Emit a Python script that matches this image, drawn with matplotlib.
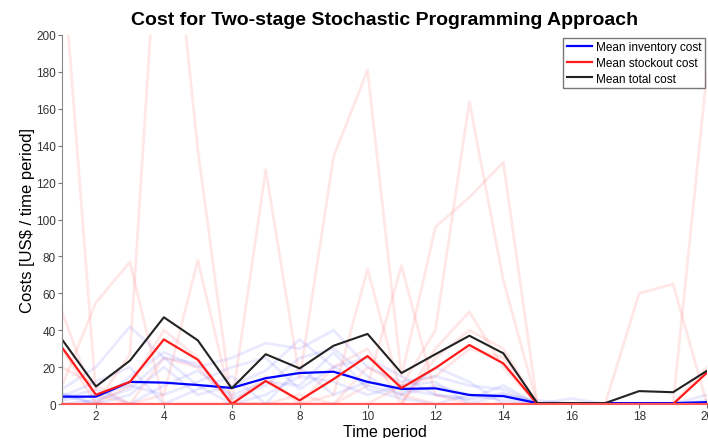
import numpy as np
import matplotlib
matplotlib.use("Agg")
import matplotlib.pyplot as plt

plt.rcParams['font.family'] = ['Liberation Sans', 'DejaVu Sans']

periods = list(range(1, 21))

# mean curves
mean_inventory = [4, 4, 12, 11.6, 10.3, 8.7, 14, 16.8, 17.5, 12, 8.2, 8.5, 4.9, 4.3, 0.5, 0.5, 0.5, 0.5, 0.5, 1]
mean_stockout = [30.7, 5, 12, 35, 24, 0, 12.5, 2, 13.5, 26, 8.7, 19.5, 32, 22, 0, 0, 0, 0, 0, 17]
mean_total = [35, 9.5, 23.5, 47, 34.5, 8.5, 27, 19.3, 31.6, 38, 16.8, 27, 37, 27.5, 0.5, 0.5, 0.5, 7, 6.4, 18]

# faint scenario curves (stockout), estimated
stock_scen = [
    [245, 5, 0, 5, 78, 0, 0, 0, 5, 73, 5, 0, 0, 0, 0, 0, 0, 60, 65, 0],
    [0, 0, 27, 315, 138, 0, 0, 0, 0, 10, 75, 5, 0, 0, 0, 0, 0, 0, 0, 180],
    [0, 0, 0, 0, 0, 0, 127, 14, 134, 181, 15, 96, 112, 131, 0, 0, 0, 0, 0, 0],
    [50, 0, 0, 0, 0, 0, 0, 0, 0, 0, 10, 40, 164, 67, 0, 0, 0, 0, 0, 0],
    [10, 55, 77, 0, 0, 0, 0, 0, 0, 0, 0, 30, 50, 20, 0, 0, 0, 0, 0, 0],
    [30, 0, 10, 40, 25, 0, 15, 0, 20, 30, 0, 25, 40, 30, 0, 0, 0, 0, 0, 20],
    [20, 10, 0, 25, 20, 0, 0, 5, 0, 20, 10, 15, 30, 25, 0, 0, 0, 0, 0, 0],
    [0, 0, 0, 0, 0, 0, 0, 0, 0, 0, 0, 0, 0, 0, 0, 0, 0, 0, 0, 0],
    [0, 0, 0, 0, 0, 0, 0, 0, 0, 0, 0, 0, 0, 0, 0, 0, 0, 0, 0, 0],
]

# faint scenario curves (inventory), estimated
inv_scen = [
    [8, 20, 42, 25, 22, 3, 10, 25, 30, 15, 5, 10, 5, 2, 0, 0, 0, 0, 0, 0],
    [5, 0, 15, 28, 20, 25, 33, 30, 40, 20, 12, 15, 10, 8, 0, 3, 0, 0, 0, 2],
    [2, 5, 10, 5, 12, 20, 25, 8, 20, 25, 15, 5, 3, 10, 0, 0, 0, 0, 0, 0],
    [0, 2, 8, 25, 10, 0, 5, 15, 12, 5, 10, 12, 0, 5, 2, 0, 0, 0, 0, 5],
    [6, 0, 5, 20, 5, 10, 18, 35, 20, 10, 5, 20, 12, 0, 0, 0, 0, 0, 0, 0],
    [3, 8, 0, 10, 18, 5, 12, 10, 28, 8, 3, 0, 5, 4, 0, 0, 0, 0, 0, 0],
    [4, 12, 20, 0, 8, 15, 0, 20, 5, 12, 8, 5, 2, 6, 0, 0, 0, 0, 0, 0],
]

fig = plt.figure(figsize=(7.08, 4.39), dpi=100)
ax = fig.add_axes([0.0876, 0.0774, 0.911, 0.8406])

for s in inv_scen:
    ax.plot(periods, s, color=(0.3, 0.3, 1.0), alpha=0.12, lw=2)
for s in stock_scen:
    ax.plot(periods, s, color=(1.0, 0.3, 0.3), alpha=0.13, lw=2)

ax.plot(periods, mean_inventory, color='#0000ff', lw=1.6, label='Mean inventory cost')
ax.plot(periods, mean_stockout, color='#ff1a1a', lw=1.6, label='Mean stockout cost')
ax.plot(periods, mean_total, color='#222222', lw=1.5, label='Mean total cost')

ax.set_xlim(1, 20)
ax.set_ylim(0, 200)
ax.set_xticks(range(2, 21, 2))
ax.set_yticks(range(0, 201, 20))
ax.tick_params(direction='out', length=3, color='#777777', labelsize=8.5, labelcolor='#333333', pad=1.5)
for side in ['top', 'right']:
    ax.spines[side].set_visible(False)
ax.spines['left'].set_color('#888888')
ax.spines['bottom'].set_color('#ff5555')
ax.spines['bottom'].set_linewidth(1.5)

ax.set_xlabel('Time period', fontsize=11.5, labelpad=1)
ax.set_ylabel('Costs [US$ / time period]', fontsize=12)
ax.yaxis.set_label_coords(-0.042, 0.5)
ax.set_title('Cost for Two-stage Stochastic Programming Approach', fontsize=14, fontweight='bold', pad=8)

leg = ax.legend(loc='upper right', bbox_to_anchor=(0.997, 0.992), borderaxespad=0,
                fontsize=8.5, handlelength=2.2, handletextpad=0.3, labelspacing=0.3,
                borderpad=0.3, fancybox=False, framealpha=1)
leg.get_frame().set_edgecolor('#777777')
leg.get_frame().set_linewidth(1)

fig.savefig('out.png', dpi=100)
